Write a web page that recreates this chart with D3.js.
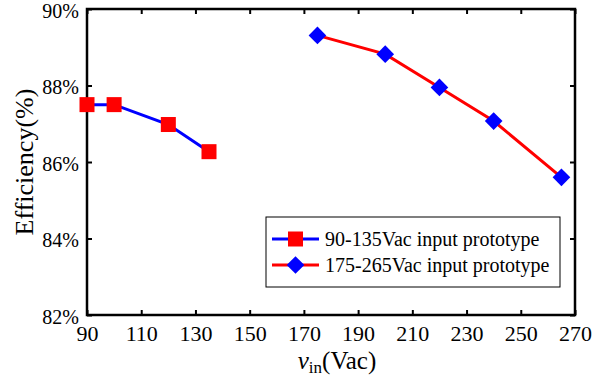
<!DOCTYPE html>
<html>
<head>
<meta charset="utf-8">
<script src="https://cdn.jsdelivr.net/npm/d3@7"></script>
<style>
  html, body { margin: 0; padding: 0; background: #fff; }
  svg { display: block; }
  svg text { font-family: "Liberation Serif", "DejaVu Serif", serif; }
</style>
</head>
<body>
<svg id="chart" width="613" height="381"></svg>
<script>
// Efficiency vs input voltage for the two prototypes
const lowLineVin = [90, 100, 120, 135];
const lowLineEff = [87.5, 87.5, 86.98, 86.27];
const highLineVin = [175, 200, 220, 240, 265];
const highLineEff = [89.31, 88.82, 87.95, 87.07, 85.6];
const xTicks = [90, 110, 130, 150, 170, 190, 210, 230, 250, 270];
const yTicks = [82, 84, 86, 88, 90];
const seriesNames = ["90-135Vac input prototype", "175-265Vac input prototype"];

const FONT = "'Liberation Serif', serif";
const svg = d3.select("#chart");
const m = { left: 87, right: 575, top: 9, bottom: 315 };

const x = d3.scaleLinear().domain([90, 270]).range([m.left, m.right]);
const y = d3.scaleLinear().domain([82, 90]).range([m.bottom, m.top]);

const tickLen = 5;
const axisG = svg.append("g");

// Bottom axis with labels, inward ticks
const axBottom = axisG.append("g").attr("transform", `translate(0,${m.bottom})`)
  .call(d3.axisBottom(x).tickValues(xTicks).tickSize(-tickLen).tickPadding(tickLen + 5).tickFormat(d3.format("d")));
// Left axis with labels
const axLeft = axisG.append("g").attr("transform", `translate(${m.left},0)`)
  .call(d3.axisLeft(y).tickValues(yTicks).tickSize(-tickLen).tickPadding(tickLen + 3).tickFormat(d => d + "%"));
// Mirrored ticks on top and right
const axTop = axisG.append("g").attr("transform", `translate(0,${m.top})`)
  .call(d3.axisTop(x).tickValues(xTicks).tickSize(-tickLen).tickFormat(""));
const axRight = axisG.append("g").attr("transform", `translate(${m.right},0)`)
  .call(d3.axisRight(y).tickValues(yTicks).tickSize(-tickLen).tickFormat(""));

[axBottom, axLeft, axTop, axRight].forEach(g => {
  g.attr("font-family", FONT);
  g.select(".domain").remove();
  g.selectAll(".tick line").attr("stroke", "#000").attr("stroke-width", 2);
  g.selectAll(".tick text").attr("fill", "#000");
});
axBottom.attr("font-size", 22);
axLeft.attr("font-size", 20);
axLeft.selectAll(".tick text").attr("dy", "0.4em");

// Plot frame
svg.append("rect")
  .attr("x", m.left).attr("y", m.top)
  .attr("width", m.right - m.left).attr("height", m.bottom - m.top)
  .attr("fill", "none").attr("stroke", "#000").attr("stroke-width", 2.5);

const line = d3.line().x(d => x(d[0])).y(d => y(d[1]));
const lowData = lowLineVin.map((v, i) => [v, lowLineEff[i]]);
const highData = highLineVin.map((v, i) => [v, highLineEff[i]]);

const sq = 15, dia = 12.5;

function drawSquare(g, cx, cy) {
  g.append("rect").attr("x", cx - sq / 2).attr("y", cy - sq / 2)
    .attr("width", sq).attr("height", sq).attr("fill", "#ff0000");
}
function drawDiamond(g, cx, cy) {
  g.append("rect").attr("x", -dia / 2).attr("y", -dia / 2)
    .attr("width", dia).attr("height", dia).attr("fill", "#0000ff")
    .attr("transform", `translate(${cx},${cy}) rotate(45)`);
}

const plot = svg.append("g");
plot.append("path").datum(lowData).attr("d", line)
  .attr("fill", "none").attr("stroke", "#0000ff").attr("stroke-width", 3);
plot.append("path").datum(highData).attr("d", line)
  .attr("fill", "none").attr("stroke", "#ff0000").attr("stroke-width", 3);
lowData.forEach(d => drawSquare(plot, x(d[0]), y(d[1])));
highData.forEach(d => drawDiamond(plot, x(d[0]), y(d[1])));

// Legend
const lg = svg.append("g");
lg.append("rect").attr("x", 266).attr("y", 217).attr("width", 294).attr("height", 70)
  .attr("fill", "#fff").attr("stroke", "#000").attr("stroke-width", 1);
const rows = [
  { y: 239, stroke: "#0000ff", mark: drawSquare },
  { y: 265, stroke: "#ff0000", mark: drawDiamond }
];
rows.forEach((r, i) => {
  lg.append("line").attr("x1", 272).attr("x2", 319).attr("y1", r.y).attr("y2", r.y)
    .attr("stroke", r.stroke).attr("stroke-width", 3);
  r.mark(lg, 295.5, r.y);
  lg.append("text").attr("x", 325).attr("y", r.y + 7)
    .attr("font-family", FONT).attr("font-size", 20).attr("fill", "#000").text(seriesNames[i]);
});

// Axis titles
const xt = svg.append("text").attr("x", 337).attr("y", 369).attr("text-anchor", "middle")
  .attr("font-family", FONT).attr("font-size", 25).attr("fill", "#000");
xt.append("tspan").attr("font-style", "italic").text("v");
xt.append("tspan").attr("dy", 4).attr("font-size", 17).text("in");
xt.append("tspan").attr("dy", -4).text("(Vac)");

svg.append("text").attr("transform", `translate(33,${(m.top + m.bottom) / 2}) rotate(-90)`)
  .attr("text-anchor", "middle").attr("font-family", FONT).attr("font-size", 26).attr("fill", "#000")
  .text("Efficiency(%)");
</script>
</body>
</html>
